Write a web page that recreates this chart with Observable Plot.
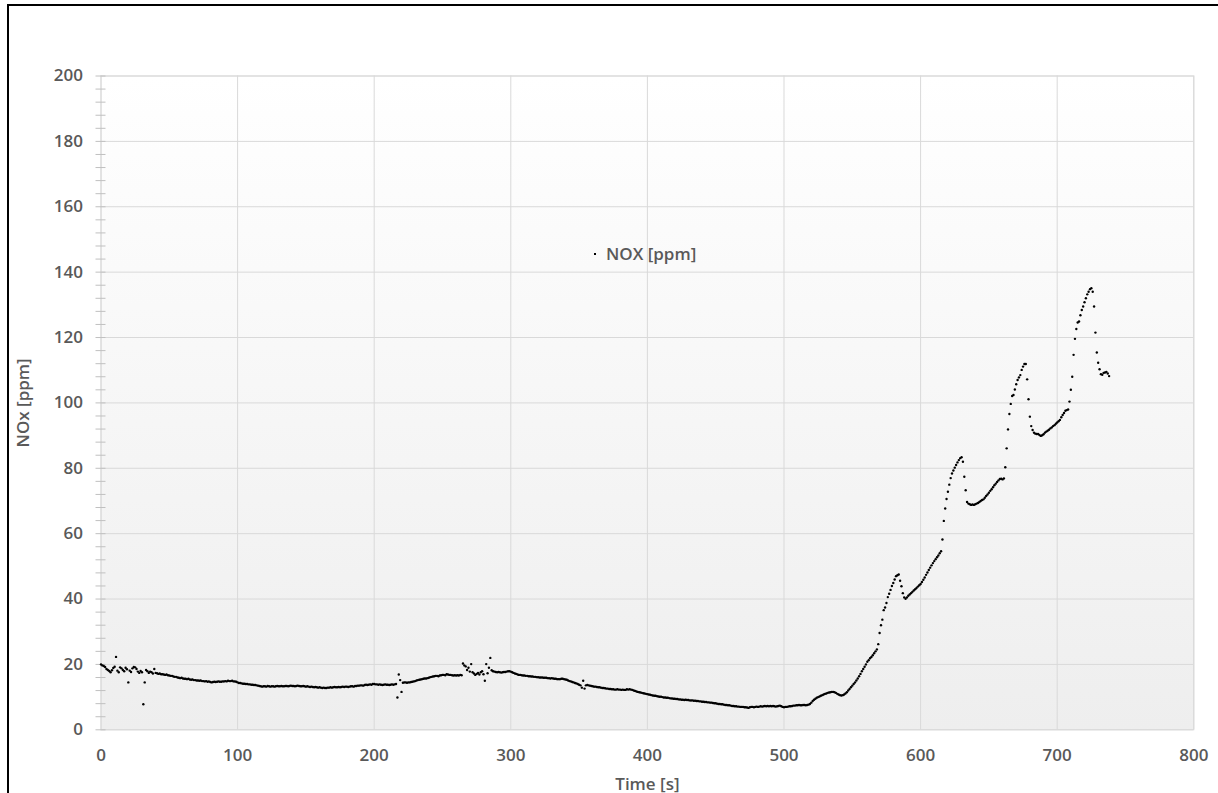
<!DOCTYPE html>
<html><head><meta charset="utf-8">
<script src="https://cdn.jsdelivr.net/npm/d3@7"></script>
<script src="https://cdn.jsdelivr.net/npm/@observablehq/plot@0.6"></script>
<style>
html,body{margin:0;padding:0;background:#fff;overflow:hidden;}
#wrap{position:relative;width:1218px;height:793px;}
#chart svg text{font-size:17px !important;font-weight:600 !important;font-family:"Open Sans",sans-serif !important;fill:#595959;}
#frameBorder{position:absolute;left:6.5px;top:3.8px;width:1300px;height:900px;border:2.5px solid #000;box-sizing:border-box;pointer-events:none;}
#legend{position:absolute;left:594px;top:243px;font:600 17px "Open Sans",sans-serif;color:#595959;white-space:nowrap;line-height:22px;}
#legend .sw{display:inline-block;width:2px;height:2px;background:#000;vertical-align:middle;margin-right:10px;position:relative;top:-1px;}
</style></head><body>
<div id="wrap"><div id="chart"></div><div id="legend"><span class="sw"></span>NOX [ppm]</div><div id="frameBorder"></div></div>
<script>
// NOx readings, one per second starting at t = 0 s
const nox = [
20.0,19.7,19.5,19.2,18.6,18.3,18.0,17.6,18.2,18.9,
19.3,22.3,18.1,17.6,19.1,18.8,18.3,17.9,19.0,18.5,
14.5,18.1,17.7,18.8,19.2,19.1,18.6,17.8,17.4,18.0,
17.6,7.8,14.5,18.3,17.9,17.4,17.8,17.6,17.2,18.6,
17.4,17.3,17.1,17.2,17.0,17.0,16.9,16.8,16.9,16.7,
16.6,16.5,16.5,16.3,16.2,16.2,16.0,15.9,15.8,15.9,
15.7,15.6,15.6,15.5,15.6,15.4,15.3,15.4,15.2,15.2,
15.1,15.1,15.0,15.1,14.9,14.9,14.8,14.9,14.7,14.8,
14.6,14.5,14.6,14.7,14.6,14.7,14.8,14.7,14.7,14.8,
14.8,14.9,14.8,15.0,14.9,14.9,15.0,14.8,14.8,14.7,
14.5,14.3,14.3,14.2,14.1,14.1,14.0,14.0,13.9,13.9,
13.8,13.8,13.7,13.7,13.6,13.5,13.4,13.3,13.2,13.3,
13.3,13.2,13.4,13.3,13.2,13.3,13.3,13.2,13.3,13.4,
13.3,13.3,13.4,13.3,13.3,13.4,13.4,13.3,13.4,13.5,
13.4,13.4,13.3,13.4,13.5,13.4,13.3,13.3,13.4,13.3,
13.2,13.3,13.2,13.1,13.2,13.1,13.0,13.1,13.0,12.9,
13.0,12.9,12.8,12.9,12.8,12.8,12.9,12.9,13.0,12.9,
13.0,13.1,13.0,13.0,13.1,13.0,13.1,13.2,13.1,13.2,
13.2,13.1,13.2,13.3,13.3,13.2,13.4,13.4,13.5,13.5,
13.6,13.6,13.5,13.7,13.8,13.7,13.8,13.9,13.8,14.0,
14.0,13.9,13.9,13.8,13.9,13.8,13.7,13.8,13.9,13.8,
13.8,13.7,13.8,13.9,13.8,13.9,14.0,9.9,16.9,15.2,
11.6,14.4,14.5,14.5,14.4,14.5,14.5,14.6,14.7,14.8,
14.9,15.1,15.2,15.3,15.4,15.5,15.6,15.7,15.7,15.8,
15.9,16.1,16.2,16.3,16.4,16.5,16.5,16.4,16.6,16.7,
16.8,16.8,16.7,17.0,16.9,16.8,16.8,16.7,16.6,16.7,
16.6,16.7,16.6,16.8,16.7,20.3,19.7,19.4,18.3,19.0,
17.8,20.1,17.6,17.2,16.8,17.1,17.4,16.9,17.6,17.9,
17.0,15.0,20.1,17.3,19.0,22.0,18.2,17.9,17.8,17.7,
17.6,17.7,17.6,17.5,17.6,17.7,17.7,17.8,17.9,17.9,
17.8,17.6,17.4,17.2,17.1,16.9,16.8,16.8,16.7,16.6,
16.6,16.5,16.5,16.4,16.4,16.3,16.3,16.2,16.2,16.1,
16.1,16.0,16.0,16.0,15.9,15.9,15.9,15.8,15.8,15.7,
15.8,15.7,15.6,15.6,15.5,15.5,15.5,15.6,15.6,15.5,
15.4,15.3,15.1,14.9,14.8,14.6,14.5,14.3,14.2,14.0,
13.8,13.6,12.9,15.0,12.6,13.6,13.7,13.6,13.5,13.4,
13.3,13.2,13.2,13.1,13.0,13.0,12.9,12.8,12.8,12.7,
12.6,12.6,12.5,12.5,12.4,12.4,12.3,12.3,12.4,12.3,
12.3,12.2,12.3,12.2,12.2,12.4,12.3,12.4,12.3,12.2,
12.0,11.9,11.7,11.6,11.5,11.4,11.3,11.2,11.1,11.0,
10.9,10.8,10.7,10.6,10.5,10.4,10.4,10.3,10.2,10.1,
10.1,10.0,9.9,9.9,9.8,9.8,9.7,9.6,9.6,9.5,
9.5,9.4,9.4,9.3,9.3,9.2,9.2,9.1,9.2,9.1,
9.1,9.0,9.0,9.0,8.9,8.9,8.8,8.8,8.7,8.7,
8.6,8.6,8.5,8.5,8.4,8.4,8.3,8.3,8.2,8.1,
8.1,8.0,7.9,7.9,7.8,7.8,7.7,7.6,7.6,7.5,
7.5,7.4,7.3,7.3,7.2,7.2,7.1,7.1,7.0,7.0,
7.0,6.9,6.9,6.8,6.7,6.9,7.0,7.0,6.9,7.0,
7.1,7.0,7.1,7.2,7.1,7.2,7.3,7.2,7.3,7.2,
7.3,7.2,7.3,7.2,7.1,7.2,7.3,7.4,7.2,7.0,
6.9,7.0,7.0,7.1,7.2,7.2,7.3,7.4,7.4,7.5,
7.5,7.6,7.5,7.5,7.6,7.6,7.5,7.6,7.7,7.9,
8.3,8.8,9.2,9.5,9.8,10.0,10.2,10.4,10.6,10.8,
11.0,11.1,11.3,11.4,11.5,11.6,11.6,11.5,11.3,11.0,
10.8,10.6,10.5,10.6,10.8,11.1,11.5,12.0,12.5,13.0,
13.5,14.0,14.5,15.1,15.7,16.4,17.1,17.9,18.6,19.3,
20.0,20.8,21.3,21.9,22.3,22.8,23.4,24.0,24.6,26.2,
29.6,32.0,33.7,36.6,37.4,38.8,40.6,41.6,42.8,44.0,
44.9,46.0,47.0,47.3,47.5,45.6,43.9,41.8,40.5,40.1,
40.5,41.0,41.4,41.8,42.2,42.6,43.0,43.4,43.8,44.2,
44.6,45.2,45.9,46.6,47.4,48.1,48.9,49.6,50.3,51.0,
51.6,52.2,52.8,53.3,54.0,54.6,58.2,63.9,67.7,70.6,
72.8,75.0,77.0,78.4,79.3,80.2,81.0,81.8,82.5,83.1,
83.4,82.0,77.4,73.3,69.7,69.2,69.0,68.8,68.9,68.8,
69.0,69.2,69.4,69.7,70.0,70.3,70.5,71.0,71.5,72.0,
72.5,73.1,73.6,74.2,74.8,75.3,75.8,76.3,76.7,76.8,
76.6,76.9,80.3,86.1,91.9,96.6,99.7,102.1,102.4,104.1,
105.7,107.0,107.8,108.5,110.1,111.1,111.9,111.9,107.2,101.1,
95.8,92.9,91.7,90.9,90.6,90.5,90.5,90.2,89.9,90.1,
90.4,90.9,91.2,91.5,91.8,92.2,92.5,92.9,93.2,93.6,
94.0,94.4,94.8,95.6,96.3,96.9,97.6,97.8,98.0,100.4,
104.0,108.0,114.7,119.6,122.6,124.6,124.9,126.8,128.4,129.5,
130.8,132.0,133.2,134.0,134.8,135.1,134.0,129.5,121.5,115.4,
112.3,110.3,108.8,108.6,109.2,109.3,109.5,109.0,108.2
];
const xTicks = [0, 100, 200, 300, 400, 500, 600, 700, 800];
const yTicks = [0, 20, 40, 60, 80, 100, 120, 140, 160, 180, 200];
const yMinorTicks = d3.range(0, 201, 4);
const xLabel = "Time [s]";
const yLabel = "NOx [ppm]";

const data = nox.map((v, i) => ({t: i, v}));

const gradient = () => {
  const defs = d3.create("svg:defs");
  const g = defs.append("linearGradient").attr("id", "plotbg")
    .attr("x1", 0).attr("y1", 0).attr("x2", 0).attr("y2", 1);
  g.append("stop").attr("offset", "0%").attr("stop-color", "#ffffff");
  g.append("stop").attr("offset", "100%").attr("stop-color", "#eeeeee");
  return defs.node();
};

const chart = Plot.plot({
  width: 1218,
  height: 793,
  marginLeft: 100.5,
  marginRight: 24.7,
  marginTop: 75.5,
  marginBottom: 63.7,
  style: {fontFamily: '"Open Sans", sans-serif', fontSize: "17px", fontWeight: 600, color: "#595959", background: "transparent", overflow: "visible"},
  x: {domain: [0, 800]},
  y: {domain: [0, 200]},
  marks: [
    gradient,
    Plot.frame({fill: "url(#plotbg)"}),
    Plot.gridX({ticks: xTicks, stroke: "#d9d9d9", strokeOpacity: 1}),
    Plot.gridY({ticks: yTicks, stroke: "#d9d9d9", strokeOpacity: 1}),
    Plot.frame({stroke: "#d9d9d9"}),
    Plot.axisY({ticks: yMinorTicks, tickSize: 10, dx: 5, tickFormat: () => "", stroke: "#c0c0c0", label: null}),
    Plot.axisY({ticks: yTicks, tickSize: 0, tickPadding: 18, label: yLabel, labelAnchor: "center", labelOffset: 84, labelArrow: "none"}),
    Plot.axisX({ticks: xTicks, tickSize: 0, tickPadding: 19, label: xLabel, labelAnchor: "center", labelOffset: 60, labelArrow: "none"}),
    Plot.dot(data, {x: "t", y: "v", r: 1.2, fill: "#000", stroke: null})
  ]
});
document.getElementById("chart").append(chart);
</script>
</body></html>
